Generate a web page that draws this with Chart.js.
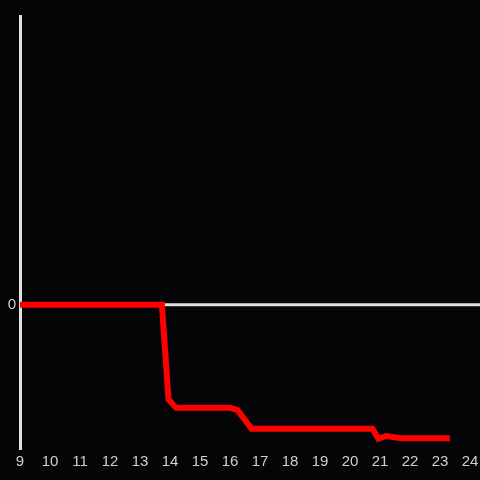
<!DOCTYPE html>
<html>
<head>
<meta charset="utf-8">
<script src="https://cdn.jsdelivr.net/npm/chart.js@4"></script>
<style>
  html, body { margin: 0; padding: 0; background: #050407; }
  #wrap { width: 480px; height: 480px; }
</style>
</head>
<body>
<div id="wrap"><canvas id="chart"></canvas></div>
<script>
// Data (hour of day vs value)
const hours  = [9, 13.73, 13.95, 14.2, 16.0, 16.25, 16.72, 20.75, 20.95, 21.2, 21.7, 23.33];
const values = [0, 0, -0.655, -0.715, -0.715, -0.73, -0.86, -0.86, -0.93, -0.91, -0.925, -0.925];
const xTicks = [9, 10, 11, 12, 13, 14, 15, 16, 17, 18, 19, 20, 21, 22, 23, 24];
const yTicks = [0];

const axisColor = '#e0e0e0';
const labelColor = '#d0d0d0';

// zero line runs from the y axis to the right edge of the canvas
const zeroLine = {
    id: 'zeroLine',
    beforeDatasetsDraw(chart) {
        const ctx = chart.ctx;
        const y = chart.scales.y.getPixelForValue(0);
        ctx.save();
        ctx.strokeStyle = axisColor;
        ctx.lineWidth = 3;
        ctx.beginPath();
        ctx.moveTo(chart.chartArea.left, y);
        ctx.lineTo(chart.width, y);
        ctx.stroke();
        ctx.restore();
    }
};

const ctx = document.getElementById('chart').getContext('2d');
new Chart(ctx, {
    type: 'line',
    data: {
        datasets: [{
            data: hours.map((h, i) => ({ x: h, y: values[i] })),
            borderColor: '#ff0000',
            borderWidth: 6,
            pointRadius: 0,
            tension: 0,
            fill: false
        }]
    },
    options: {
        responsive: true,
        maintainAspectRatio: false,
        animation: false,
        layout: { padding: { top: 16, right: 10, bottom: 5, left: 0 } },
        plugins: {
            legend: { display: false },
            tooltip: { enabled: false }
        },
        scales: {
            x: {
                type: 'linear',
                min: 9,
                max: 24,
                afterBuildTicks: scale => { scale.ticks = xTicks.map(v => ({ value: v })); },
                afterFit: scale => { scale.paddingLeft = 0; scale.paddingRight = 0; },
                grid: { display: false, drawTicks: false },
                border: { display: false },
                ticks: {
                    color: labelColor,
                    padding: 4,
                    maxRotation: 0,
                    autoSkip: false,
                    font: { family: 'Liberation Sans', size: 15 }
                }
            },
            y: {
                min: -1,
                max: 2,
                afterBuildTicks: scale => { scale.ticks = yTicks.map(v => ({ value: v })); },
                afterFit: scale => { scale.width = 20; },
                grid: { display: false, drawTicks: false },
                border: { display: true, color: axisColor, width: 3 },
                ticks: {
                    color: labelColor,
                    padding: 4,
                    font: { family: 'Liberation Sans', size: 15 }
                }
            }
        }
    },
    plugins: [zeroLine]
});
</script>
</body>
</html>
